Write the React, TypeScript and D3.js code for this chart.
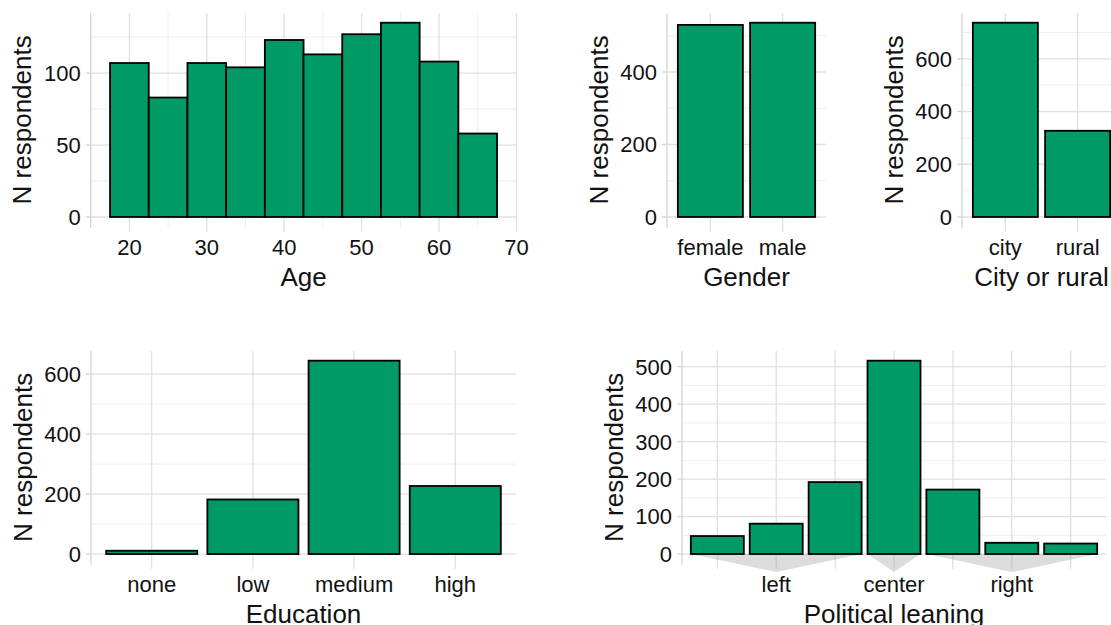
import { useEffect, useRef } from 'react';
import * as d3 from 'd3';

// age histogram, binwidth 5 (bin centres)
const AGE_BINS = [20, 25, 30, 35, 40, 45, 50, 55, 60, 65];
const AGE_COUNTS = [107, 83, 107, 104, 123, 113, 127, 135, 108, 58];
const AGE_XTICKS = [20, 30, 40, 50, 60, 70];
const AGE_YTICKS = [0, 50, 100];

const GENDER = ['female', 'male'];
const GENDER_COUNTS = [530, 536];
const GENDER_YTICKS = [0, 200, 400];

const RESIDENCE = ['city', 'rural'];
const RESIDENCE_COUNTS = [737, 327];
const RESIDENCE_YTICKS = [0, 200, 400, 600];

const EDUCATION = ['none', 'low', 'medium', 'high'];
const EDUCATION_COUNTS = [11, 182, 645, 227];
const EDUCATION_YTICKS = [0, 200, 400, 600];

const POLITICS = ['1', '2', '3', '4', '5', '6', '7'];
const POLITICS_COUNTS = [48, 81, 192, 516, 172, 30, 28];
const POLITICS_YTICKS = [0, 100, 200, 300, 400, 500];
const POLITICS_GROUPS = [
  { label: 'left', from: '1', to: '3', at: '2' },
  { label: 'center', from: '4', to: '4', at: '4' },
  { label: 'right', from: '5', to: '7', at: '6' },
];

const FONT = '"Liberation Sans", Arial, Helvetica, sans-serif';
const GREEN = '#009a67';
const GRID = '#e0e0e0';
const GRID_MINOR = '#ececec';
const TICK = '#d4d4d4';
const INK = '#111';
const TICK_FONT = 22;
const TITLE_FONT = 26;

const TOP = { y0: 13, y1: 226.7 };
const BOTTOM = { y0: 351, y1: 563.7 };

const minorsOf = (ticks, lo, hi) => {
  const step = ticks[1] - ticks[0];
  const out = [];
  for (let v = ticks[0] - step / 2; v <= hi + 1e-9; v += step) {
    if (v >= lo - 1e-9) out.push(v);
  }
  return out;
};

const yScaleFor = (counts, row) => {
  const max = d3.max(counts);
  return d3.scaleLinear().domain([-0.05 * max, 1.05 * max]).range([row.y1, row.y0]);
};

// grid, axis line, ticks, labels and titles of one panel
const drawFrame = (svg, o) => {
  const g = svg.append('g');
  const [lo, hi] = o.y.domain();
  const x0 = o.x0, x1 = o.x1, y0 = o.row.y0, y1 = o.row.y1;

  g.selectAll('.hmin').data(minorsOf(o.yTicks, lo, hi)).join('line')
    .attr('x1', x0).attr('x2', x1)
    .attr('y1', d => o.y(d)).attr('y2', d => o.y(d))
    .attr('stroke', GRID_MINOR).attr('stroke-width', 0.9);
  if (o.xMinor) {
    g.selectAll('.vmin').data(o.xMinor).join('line')
      .attr('x1', d => o.xPos(d)).attr('x2', d => o.xPos(d))
      .attr('y1', y0).attr('y2', y1)
      .attr('stroke', GRID_MINOR).attr('stroke-width', 0.9);
  }
  g.selectAll('.hmaj').data(o.yTicks).join('line')
    .attr('x1', x0).attr('x2', x1)
    .attr('y1', d => o.y(d)).attr('y2', d => o.y(d))
    .attr('stroke', GRID).attr('stroke-width', 1.3);
  g.selectAll('.vmaj').data(o.xTicks).join('line')
    .attr('x1', d => o.xPos(d)).attr('x2', d => o.xPos(d))
    .attr('y1', y0).attr('y2', y1 + 5)
    .attr('stroke', GRID).attr('stroke-width', 1.3);

  // y axis line + ticks
  g.append('line').attr('x1', x0).attr('x2', x0).attr('y1', y0).attr('y2', y1 + 1)
    .attr('stroke', TICK).attr('stroke-width', 1.3);
  g.selectAll('.yt').data(o.yTicks).join('line')
    .attr('x1', x0 - 5).attr('x2', x0)
    .attr('y1', d => o.y(d)).attr('y2', d => o.y(d))
    .attr('stroke', TICK).attr('stroke-width', 1.3);

  g.selectAll('.yl').data(o.yTicks).join('text')
    .attr('x', x0 - 10).attr('y', d => o.y(d)).attr('dy', '0.36em')
    .attr('text-anchor', 'end').attr('font-size', TICK_FONT).attr('fill', INK)
    .text(d => d);

  g.selectAll('.xl').data(o.xLabels).join('text')
    .attr('x', d => o.xPos(d.at)).attr('y', y1 + 28.5)
    .attr('text-anchor', 'middle').attr('font-size', TICK_FONT).attr('fill', INK)
    .text(d => d.label);

  g.append('text')
    .attr('transform', `translate(${x0 - 59.5},${(y0 + y1) / 2}) rotate(-90)`)
    .attr('text-anchor', 'middle').attr('font-size', TITLE_FONT).attr('fill', INK)
    .text('N respondents');
  g.append('text')
    .attr('x', (x0 + x1) / 2).attr('y', y1 + 59)
    .attr('text-anchor', 'middle').attr('font-size', TITLE_FONT).attr('fill', INK)
    .text(o.title);
};

const drawBars = (svg, cats, counts, x, y) => {
  const bw = x.step() * 0.9;
  svg.append('g').selectAll('rect')
    .data(cats.map((c, i) => ({ c, n: counts[i] }))).join('rect')
    .attr('x', d => x(d.c) - bw / 2)
    .attr('y', d => y(d.n))
    .attr('width', bw)
    .attr('height', d => y(0) - y(d.n))
    .attr('fill', GREEN).attr('stroke', '#000').attr('stroke-width', 1.8);
};

const categoryPanel = (svg, cats, counts, yTicks, box, row, title, labels = null) => {
  const x = d3.scalePoint().domain(cats).range([box.x0, box.x1]).padding(0.6);
  const y = yScaleFor(counts, row);
  drawFrame(svg, {
    x0: box.x0, x1: box.x1, row, y, yTicks,
    xPos: d => x(d), xTicks: cats,
    xLabels: labels || cats.map(c => ({ at: c, label: c })),
    title,
  });
  return { x, y };
};

const App = () => {
  const svgRef = useRef(null);

  useEffect(() => {
    const svg = d3.select(svgRef.current);
    svg.selectAll('*').remove();
    svg.attr('font-family', FONT);

    // Age histogram
    const ageX = d3.scaleLinear().domain([15, 70]).range([90.7, 516.4]);
    const ageY = yScaleFor(AGE_COUNTS, TOP);
    drawFrame(svg, {
      x0: 90.7, x1: 516.4, row: TOP, y: ageY, yTicks: AGE_YTICKS,
      xPos: d => ageX(d), xTicks: AGE_XTICKS,
      xMinor: minorsOf(AGE_XTICKS, 15, 70),
      xLabels: AGE_XTICKS.map(t => ({ at: t, label: t })),
      title: 'Age',
    });
    svg.append('g').selectAll('rect')
      .data(AGE_BINS.map((b, i) => ({ b, n: AGE_COUNTS[i] }))).join('rect')
      .attr('x', d => ageX(d.b - 2.5))
      .attr('y', d => ageY(d.n))
      .attr('width', d => ageX(d.b + 2.5) - ageX(d.b - 2.5))
      .attr('height', d => ageY(0) - ageY(d.n))
      .attr('fill', GREEN).attr('stroke', '#000').attr('stroke-width', 1.8);

    const gen = categoryPanel(svg, GENDER, GENDER_COUNTS, GENDER_YTICKS, { x0: 667, x1: 826 }, TOP, 'Gender');
    drawBars(svg, GENDER, GENDER_COUNTS, gen.x, gen.y);

    const res = categoryPanel(svg, RESIDENCE, RESIDENCE_COUNTS, RESIDENCE_YTICKS, { x0: 962, x1: 1121 }, TOP, 'City or rural');
    drawBars(svg, RESIDENCE, RESIDENCE_COUNTS, res.x, res.y);

    const edu = categoryPanel(svg, EDUCATION, EDUCATION_COUNTS, EDUCATION_YTICKS, { x0: 91, x1: 516 }, BOTTOM, 'Education');
    drawBars(svg, EDUCATION, EDUCATION_COUNTS, edu.x, edu.y);

    const pol = categoryPanel(svg, POLITICS, POLITICS_COUNTS, POLITICS_YTICKS, { x0: 682, x1: 1106 }, BOTTOM,
      'Political leaning', POLITICS_GROUPS.map(g => ({ at: g.at, label: g.label })));
    const half = pol.x.step() * 0.45;
    const base = pol.y(0);
    svg.append('g').selectAll('path').data(POLITICS_GROUPS).join('path')
      .attr('d', g => `M${pol.x(g.from) - half},${base}L${pol.x(g.to) + half},${base}L${pol.x(g.at)},${base + 18}Z`)
      .attr('fill', '#9a9a9a').attr('fill-opacity', 0.35);
    drawBars(svg, POLITICS, POLITICS_COUNTS, pol.x, pol.y);
  }, []);

  return (
    <div style={{ position: 'absolute', left: 0, top: 0, width: 1111, height: 625, background: '#fff', overflow: 'hidden' }}>
      <svg ref={svgRef} width={1111} height={625} style={{ display: 'block' }} />
    </div>
  );
};

export default App;
